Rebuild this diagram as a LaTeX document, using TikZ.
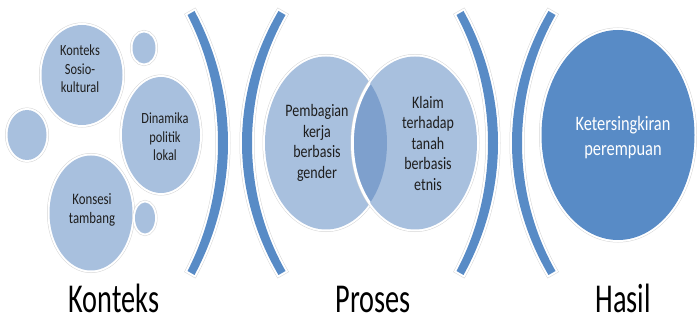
\documentclass[tikz,border=0pt]{standalone}
\usepackage{fontspec}
\setmainfont{Carlito}[FakeStretch=0.8]
\newfontfamily\labelfont{Carlito}[FakeStretch=0.69]
\usetikzlibrary{shapes.geometric}
\definecolor{lightblue}{RGB}{168,192,222}
\definecolor{overlapblue}{RGB}{126,160,205}
\definecolor{darkblue}{RGB}{88,139,198}
\definecolor{txt}{RGB}{30,30,30}
\tikzset{
  glow/.style={preaction={draw=black!16, line width=5pt}, preaction={draw=white, line width=4pt}},
  bub/.style={ellipse, inner sep=0pt, outer sep=0pt, fill=lightblue, glow},
  bigbub/.style={ellipse, inner sep=0pt, outer sep=0pt, fill=darkblue, glow},
  brk/.style={fill=darkblue, glow, line join=round},
  intext/.style={align=center, text=txt, font=\fontsize{15.5}{18.5}\selectfont},
  venntext/.style={align=center, text=txt, font=\fontsize{17.5}{20.5}\selectfont},
  biglabel/.style={anchor=base, inner sep=0pt, text=black, font=\labelfont\fontsize{41}{43}\selectfont}
}
\newcommand\mycrescent[3]{% tip x, mid x, direction
  \path[brk] ({#1+#3*3.5},11) .. controls ({#1+#3*3.5+0.66*(#2-#1+#3*1.5)},52) and ({#2+#3*5},98) .. ({#2+#3*5},143)
    .. controls ({#2+#3*5},188) and ({#1+#3*3.5+0.66*(#2-#1+#3*1.5)},234) .. ({#1+#3*3.5},275)
    -- ({#1-#3*3.5},271) .. controls ({#1-#3*3.5+0.66*(#2-#1-#3*1.5)},232) and ({#2-#3*5},188) .. ({#2-#3*5},143)
    .. controls ({#2-#3*5},98) and ({#1-#3*3.5+0.66*(#2-#1-#3*1.5)},54) .. ({#1-#3*3.5},15) -- cycle;}
\begin{document}
\begin{tikzpicture}[x=1pt,y=-1pt]
\useasboundingbox (0,0) rectangle (697,323);
% context circles
\node[bub, minimum width=81, minimum height=100] (sosio) at (82,75) {};
\node[bub, minimum width=23, minimum height=31] (smalltop) at (144,48) {};
\node[bub, minimum width=39, minimum height=50] (smallleft) at (27,135) {};
\node[bub, minimum width=78, minimum height=116] (dinamika) at (161,135) {};
\node[bub, minimum width=83, minimum height=115] (konsesi) at (91,213) {};
\node[bub, minimum width=20, minimum height=31] (smallbot) at (145,218) {};
% brackets
\mycrescent{191}{223}{1}
\mycrescent{282}{247}{-1}
\mycrescent{460}{493}{1}
\mycrescent{552}{517}{-1}
% venn
\node[bub, minimum width=122, minimum height=173] (vennl) at (326,143) {};
\node[bub, minimum width=124, minimum height=173] (vennr) at (415,143) {};
\begin{scope}
  \clip (326,143) ellipse [x radius=61, y radius=86.5];
  \fill[overlapblue, draw=white, line width=1.6pt] (415,143) ellipse [x radius=62, y radius=86.5];
\end{scope}
% result
\node[bigbub, minimum width=153, minimum height=210] (hasil) at (618,135) {};
% texts
\node[intext] (tsosio) at (80,69) {Konteks\\Sosio-\\kultural};
\node[intext] (tdinamika) at (165,137) {Dinamika\\politik\\lokal};
\node[intext, font=\fontsize{16}{18.5}\selectfont] (tkonsesi) at (92,210) {Konsesi\\tambang};
\node[venntext] (tvennl) at (317,143) {Pembagian\\kerja\\berbasis\\gender};
\node[venntext] (tvennr) at (428,143) {Klaim\\terhadap\\tanah\\berbasis\\etnis};
\node[align=center, text=white, font=\fontsize{20.5}{25}\selectfont] (thasil) at (623,138) {Ketersingkiran\\perempuan};
% labels
\node[biglabel] (lkonteks) at (114,313) {Konteks};
\node[biglabel] (lproses) at (373,313) {Proses};
\node[biglabel] (lhasil) at (623,313) {Hasil};
\end{tikzpicture}
\end{document}
